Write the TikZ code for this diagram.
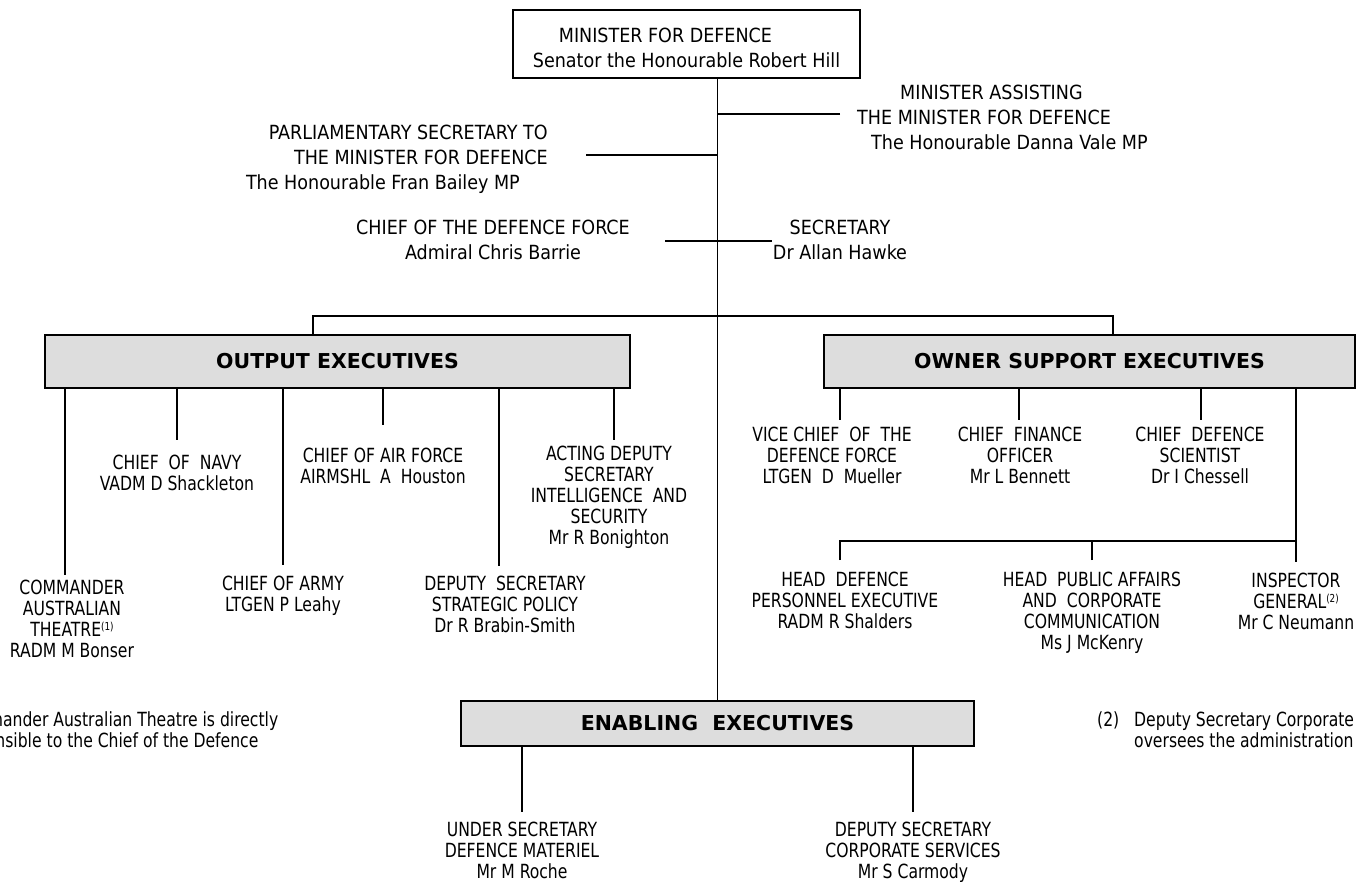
\documentclass[tikz,border=0pt]{standalone}
\usepackage{fontspec}
\setmainfont{DejaVu Sans Condensed}
\newfontfamily\lowfam[FakeStretch=0.89]{DejaVu Sans Condensed}
\newfontfamily\boxfam{DejaVu Sans}
\definecolor{boxgray}{RGB}{221,221,221}
\newcommand\myfA{\fontsize{19.5}{25}\selectfont}
\newcommand\myfB{\fontsize{19.5}{21}\selectfont}
\newcommand\supn[1]{\raisebox{6pt}{\fontsize{11}{11}\selectfont(#1)}}
\begin{document}
\begin{tikzpicture}[x=1pt,y=-1pt,
  lblA/.style={font=\myfA, inner sep=0pt, align=center, anchor=north},
  lblB/.style={font=\lowfam\myfB, inner sep=0pt, align=center, anchor=north},
  conn/.style={line width=1.4pt, draw=black},
  grp/.style={draw=black, line width=1.5pt, fill=boxgray, inner sep=0pt, font=\boxfam\bfseries\fontsize{20.5}{22}\selectfont},
]
\useasboundingbox (0,0) rectangle (1356,881);
\clip (0,0) rectangle (1356,881);

% top box
\node[draw=black, line width=1.5pt, minimum width=347pt, minimum height=68pt,
      font=\myfA, align=left, inner sep=0pt] (min) at (686.5,44)
  {\rule{26pt}{0pt}\rule{0pt}{22pt}MINISTER FOR DEFENCE\\Senator the Honourable Robert Hill};

\node[font=\myfA, inner sep=0pt, align=left, anchor=north west] (assist) at (857,85)
  {\rule{43pt}{0pt}MINISTER ASSISTING\\THE MINISTER FOR DEFENCE\\\rule{14pt}{0pt}The Honourable Danna Vale MP};
\node[font=\myfA, inner sep=0pt, align=right, anchor=north east] (parl) at (548,125)
  {PARLIAMENTARY SECRETARY TO\\THE MINISTER FOR DEFENCE\\The Honourable Fran Bailey MP\rule{28pt}{0pt}};
\node[lblA] (cdf) at (493,220) {CHIEF OF THE DEFENCE FORCE\\Admiral Chris Barrie};
\node[lblA] (sec) at (840,220) {SECRETARY\\Dr Allan Hawke};

% group boxes
\node[grp, minimum width=585pt, minimum height=53pt] (oe) at (337.5,361.5) {OUTPUT EXECUTIVES};
\node[grp, minimum width=531pt, minimum height=53pt] (ose) at (1089.5,361.5) {OWNER SUPPORT EXECUTIVES};
\node[grp, minimum width=513pt, minimum height=45pt] (ee) at (717.5,723.5) {ENABLING\ \ EXECUTIVES};

% output executives
\node[lblB] (cmdr) at (72,580) {COMMANDER\\AUSTRALIAN\\THEATRE\supn{1}\\RADM M Bonser};
\node[lblB] (navy) at (177,455) {CHIEF\ \ OF\ \ NAVY\\VADM D Shackleton};
\node[lblB] (army) at (283,576) {CHIEF OF ARMY\\LTGEN P Leahy};
\node[lblB] (air) at (383,448) {CHIEF OF AIR FORCE\\AIRMSHL\ \ A\ \ Houston};
\node[lblB] (dsp) at (505,576) {DEPUTY\ \ SECRETARY\\STRATEGIC POLICY\\Dr R Brabin-Smith};
\node[lblB] (ads) at (609,446) {ACTING DEPUTY\\SECRETARY\\INTELLIGENCE\ \ AND\\SECURITY\\Mr R Bonighton};

% owner support executives
\node[lblB] (vcdf) at (832,427) {VICE CHIEF\ \ OF\ \ THE\\DEFENCE FORCE\\LTGEN\ \ D\ \ Mueller};
\node[lblB] (cfo) at (1020,427) {CHIEF\ \ FINANCE\\OFFICER\\Mr L Bennett};
\node[lblB] (cds) at (1200,427) {CHIEF\ \ DEFENCE\\SCIENTIST\\Dr I Chessell};
\node[lblB] (hdpe) at (845,572) {HEAD\ \ DEFENCE\\PERSONNEL EXECUTIVE\\RADM R Shalders};
\node[lblB] (hpa) at (1092,572) {HEAD\ \ PUBLIC AFFAIRS\\AND\ \ CORPORATE\\COMMUNICATION\\Ms J McKenry};
\node[lblB] (ig) at (1296,573) {INSPECTOR\\GENERAL\supn{2}\\Mr C Neumann};

% enabling executives
\node[lblB] (usdm) at (522,822) {UNDER SECRETARY\\DEFENCE MATERIEL\\Mr M Roche};
\node[lblB] (dscs) at (913,822) {DEPUTY SECRETARY\\CORPORATE SERVICES\\Mr S Carmody};

% footnotes
\node[font=\lowfam\myfB, inner sep=0pt, align=left, anchor=north west] (fn1) at (-48,711)
  {Commander Australian Theatre is directly\\responsible to the Chief of the Defence\\Force.};
\node[font=\lowfam\myfB, inner sep=0pt, anchor=north west] (fn2n) at (1097,711) {(2)};
\node[font=\lowfam\myfB, inner sep=0pt, align=left, anchor=north west] (fn2) at (1134,711)
  {Deputy Secretary Corporate Services\\oversees the administration of the Inspector General.};

% free ends
\coordinate (pEnd) at (586,155);
\coordinate (aEnd) at (840,114);
\coordinate (cL) at (665,241);
\coordinate (cR) at (772,241);
\coordinate (busL) at (313,316);
\coordinate (busR) at (1113,316);
\coordinate (subJ) at (1296,541);

\coordinate (cmdrT) at ([xshift=-7pt,yshift=5pt]cmdr.north);
\coordinate (navyT) at ([yshift=15pt]navy.north);
\coordinate (armyT) at ([yshift=11pt]army.north);
\coordinate (airT) at ([yshift=23pt]air.north);
\coordinate (dspT) at ([xshift=-6pt,yshift=10pt]dsp.north);
\coordinate (adsT) at ([xshift=5pt,yshift=6pt]ads.north);
\coordinate (vcdfT) at ([xshift=8pt,yshift=7pt]vcdf.north);
\coordinate (cfoT) at ([xshift=-1pt,yshift=7pt]cfo.north);
\coordinate (cdsT) at ([xshift=1pt,yshift=7pt]cds.north);
\coordinate (hdpeT) at ([xshift=-5pt,yshift=12pt]hdpe.north);
\coordinate (hpaT) at ([yshift=12pt]hpa.north);
\coordinate (igT) at ([yshift=11pt]ig.north);
\coordinate (usdmT) at ([yshift=10pt]usdm.north);
\coordinate (dscsT) at ([yshift=10pt]dscs.north);

% connectors
\draw[conn] (ee.north |- min.south) -- (ee.north);
\draw[conn] (pEnd) -- (pEnd -| ee.north);
\draw[conn] (aEnd) -- (aEnd -| ee.north);
\draw[conn] (cL) -- (cR);
\draw[conn] (oe.north -| busL) -- (busL) -- (busR) -- (ose.north -| busR);

\foreach \c in {cmdrT,navyT,armyT,airT,dspT,adsT}
  \draw[conn] (oe.south -| \c) -- (\c);
\foreach \c in {vcdfT,cfoT,cdsT,igT}
  \draw[conn] (ose.south -| \c) -- (\c);
\draw[conn] (hdpeT) -- (hdpeT |- subJ) -- (subJ);
\draw[conn] (hpaT) -- (hpaT |- subJ);
\foreach \c in {usdmT,dscsT}
  \draw[conn] (ee.south -| \c) -- (\c);
\end{tikzpicture}
\end{document}
